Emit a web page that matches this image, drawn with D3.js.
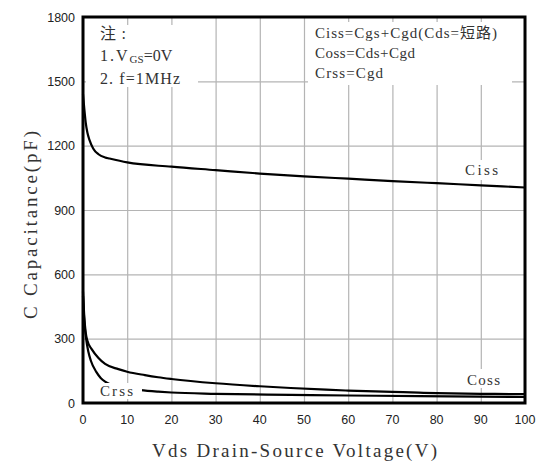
<!DOCTYPE html>
<html>
<head>
<meta charset="utf-8">
<script src="https://cdn.jsdelivr.net/npm/d3@7"></script>
<style>
  body { margin: 0; background: #fff; }
  svg { display: block; }
</style>
</head>
<body>
<div id="viz"></div>
<script>
// values (V, pF)
const cissV = [0, 0.3, 0.6, 1, 1.5, 2.3, 3.5, 5, 6, 10, 20, 30, 40, 50, 60, 70, 80, 90, 100];
const cissC = [1440, 1370, 1310, 1260, 1225, 1187, 1160, 1145, 1140, 1122, 1102, 1086, 1070, 1057, 1046, 1035, 1025, 1015, 1005];

const cossV = [0, 0.3, 0.6, 1, 2, 3.5, 5, 8, 10, 14, 17, 20, 30, 40, 47, 55, 60, 70, 76, 80, 90, 100];
const cossC = [520, 400, 330, 290, 250, 210, 182, 158, 146, 130, 120, 112, 92, 78, 70, 62, 58, 52, 48, 46, 43, 41];

const crssV = [0, 0.3, 0.7, 1.2, 1.8, 3, 4, 5, 6, 8, 10, 13, 17, 20, 30, 47, 60, 76, 100];
const crssC = [500, 380, 300, 240, 196, 145, 117, 100, 89, 76, 68, 60, 53, 49, 43, 38, 35, 32, 28];

const xTicks = [0, 10, 20, 30, 40, 50, 60, 70, 80, 90, 100];
const yTicks = [0, 300, 600, 900, 1200, 1500, 1800];

const width = 550, height = 463;
const margin = { top: 17, right: 25, bottom: 60, left: 83 };
const serif = "'Liberation Serif', 'Noto Sans CJK SC', serif";

const svg = d3.select("#viz").append("svg")
  .attr("width", width)
  .attr("height", height);

const x = d3.scaleLinear().domain([0, 100]).range([margin.left, width - margin.right]);
const y = d3.scaleLinear().domain([0, 1800]).range([height - margin.bottom, margin.top]);

// grid
svg.append("g")
  .attr("transform", `translate(0,${height - margin.bottom})`)
  .call(d3.axisBottom(x).tickValues(xTicks).tickSize(-(height - margin.top - margin.bottom)).tickFormat(""))
  .call(g => g.select(".domain").remove())
  .call(g => g.selectAll("line").attr("stroke", "#b4b4b4").attr("stroke-width", 1.2));

svg.append("g")
  .attr("transform", `translate(${margin.left},0)`)
  .call(d3.axisLeft(y).tickValues(yTicks).tickSize(-(width - margin.left - margin.right)).tickFormat(""))
  .call(g => g.select(".domain").remove())
  .call(g => g.selectAll("line").attr("stroke", "#b4b4b4").attr("stroke-width", 1.2));

// curves
const line = d3.line()
  .x(d => x(d[0]))
  .y(d => y(d[1]))
  .curve(d3.curveMonotoneX);

const series = [
  d3.zip(cissV, cissC),
  d3.zip(cossV, cossC),
  d3.zip(crssV, crssC)
];

svg.append("g")
  .selectAll("path")
  .data(series)
  .enter().append("path")
  .attr("d", line)
  .attr("fill", "none")
  .attr("stroke", "#000")
  .attr("stroke-width", 2.2);

// white boxes behind the notes
const boxes = [
  { x: 86, y: 25, w: 112, h: 62 },
  { x: 308, y: 22, w: 204, h: 63 },
  { x: 460, y: 160, w: 42, h: 20 },
  { x: 462, y: 369, w: 42, h: 19 },
  { x: 92, y: 383, w: 50, h: 16 }
];
svg.append("g")
  .selectAll("rect")
  .data(boxes)
  .enter().append("rect")
  .attr("x", d => d.x)
  .attr("y", d => d.y)
  .attr("width", d => d.w)
  .attr("height", d => d.h)
  .attr("fill", "#fff");

// frame
svg.append("rect")
  .attr("x", margin.left)
  .attr("y", margin.top)
  .attr("width", width - margin.left - margin.right)
  .attr("height", height - margin.top - margin.bottom)
  .attr("fill", "none")
  .attr("stroke", "#000")
  .attr("stroke-width", 3);

// tick labels
svg.append("g")
  .selectAll("text")
  .data(xTicks)
  .enter().append("text")
  .attr("x", d => x(d))
  .attr("y", 424)
  .attr("text-anchor", "middle")
  .attr("font-family", "'Liberation Sans', Arial, sans-serif")
  .attr("font-size", 12.5)
  .attr("fill", "#222")
  .text(d => d);

svg.append("g")
  .selectAll("text")
  .data(yTicks)
  .enter().append("text")
  .attr("x", 75)
  .attr("y", d => y(d) + 4.5)
  .attr("text-anchor", "end")
  .attr("font-family", "'Liberation Sans', Arial, sans-serif")
  .attr("font-size", 12.5)
  .attr("fill", "#222")
  .text(d => d);

// serif text stretched to the width it has in the picture
function note(t, x0, y0, len, size) {
  return svg.append("text")
    .attr("x", x0).attr("y", y0)
    .attr("font-family", serif)
    .attr("font-size", size)
    .attr("fill", "#333")
    .attr("textLength", len)
    .attr("lengthAdjust", "spacing")
    .text(t);
}

// axis titles
note("Vds Drain-Source Voltage(V)", 152, 457, 285, 19);
note("C Capacitance(pF)", 0, 0, 188, 19)
  .attr("x", null).attr("y", null)
  .attr("transform", "translate(37,319) rotate(-90)");

// notes
note("注:", 100, 39, 26, 16);
const vgs = svg.append("text").attr("x", 100).attr("y", 61)
  .attr("font-family", serif).attr("font-size", 16).attr("fill", "#333");
vgs.append("tspan").attr("letter-spacing", 2).text("1.V");
vgs.append("tspan").attr("font-size", 11).attr("dy", 2).text("GS");
vgs.append("tspan").attr("dy", -2).text("=0V");
note("2. f=1MHz", 100, 84, 80, 16);

note("Ciss=Cgs+Cgd(Cds=短路)", 315, 38, 182, 15);
note("Coss=Cds+Cgd", 315, 58, 100, 15);
note("Crss=Cgd", 315, 78, 68, 15);

// curve labels
note("Ciss", 465, 175, 33, 15);
note("Coss", 467, 385, 33, 15);
note("Crss", 100, 396, 33, 15);
</script>
</body>
</html>
